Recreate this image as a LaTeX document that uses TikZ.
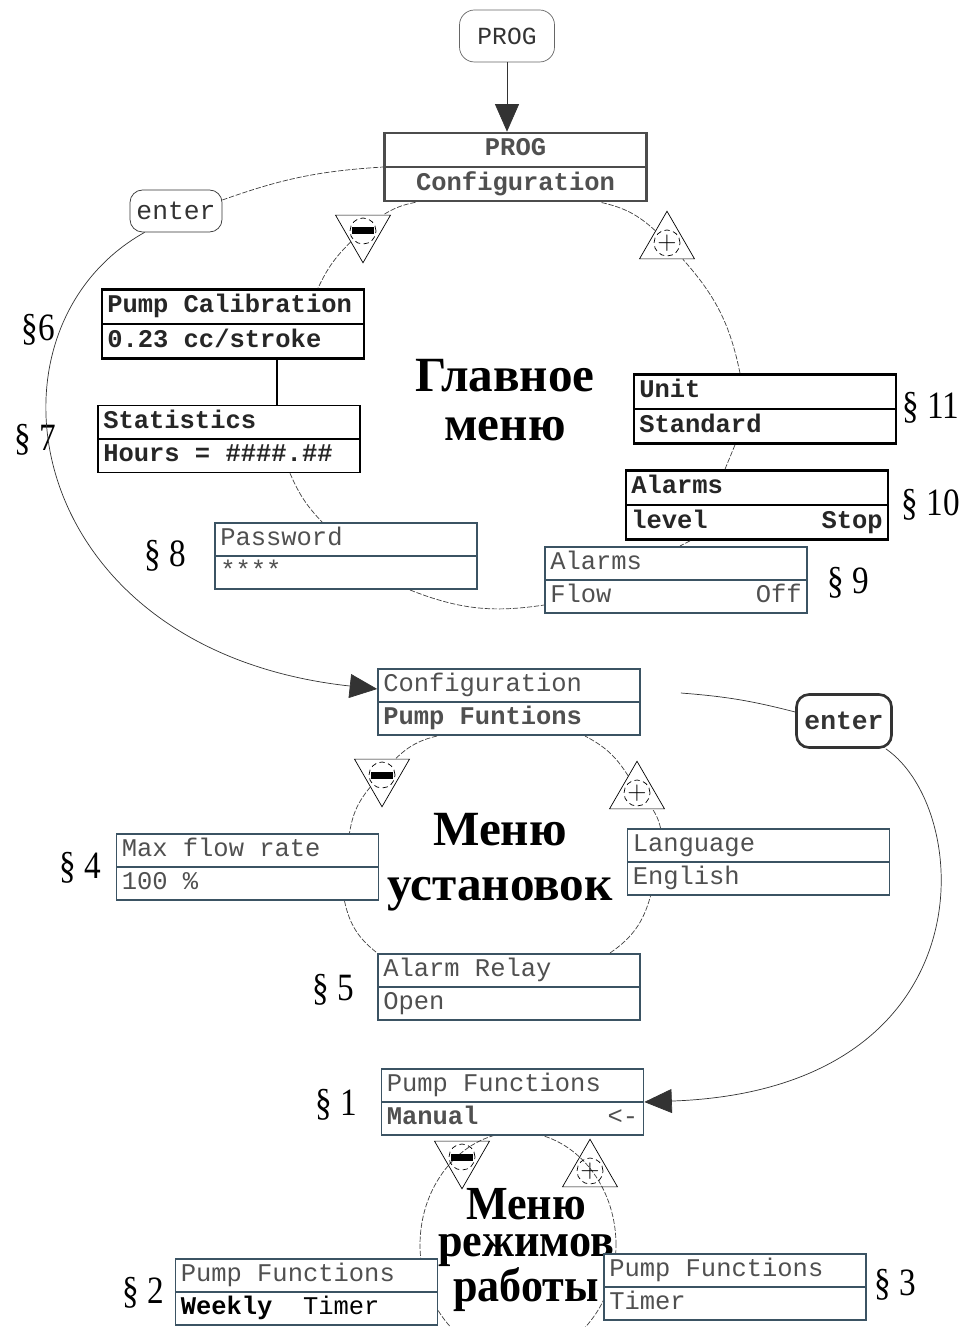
\documentclass[tikz,border=0pt]{standalone}
\usepackage{fontspec}
\setmainfont{Liberation Serif}
\newfontfamily\panelfont{Liberation Mono}
\newfontfamily\narrowserif{Liberation Serif}[FakeStretch=0.86]
\newfontfamily\modesfont{Liberation Serif}[FakeStretch=0.93]
\newcommand{\monosize}{\fontsize{14.5}{17}\selectfont\spaceskip=0.6em\relax\xspaceskip=0.6em\relax}
\usepackage{xcolor}
\definecolor{PanelSlate}{HTML}{3B5363}
\definecolor{PanelText}{HTML}{505050}
\usepackage{tikz}
\usetikzlibrary{positioning}
\usetikzlibrary{calc}
\usetikzlibrary{shapes.multipart}
\usetikzlibrary{shapes.geometric}
\usetikzlibrary{arrows, arrows.meta}

\begin{document}
\begin{tikzpicture}[
    auto,
    panel/.style={rectangle split,
    rectangle split parts=2,
    draw=PanelSlate,
    line width=0.9pt,
    fill=white,
    font=\panelfont\monosize,
    text=PanelText,
    text width=5.03cm,
    align=flush left,
    inner xsep=3pt,
    inner ysep=0.5pt},
    panelbold/.style={panel,
    draw=black,
    line width=1.6pt,
    text=black!85,
    font=\panelfont\bfseries\monosize},
    keybox/.style={rectangle,
    draw=black!80,
    rounded corners=2.5mm,
    font=\panelfont\bfseries\fontsize{15}{17}\selectfont,
    text=black!80,
    minimum width=1.84cm,
    minimum height=0.84cm},
    minustri/.style={regular polygon,
    regular polygon sides=3,
    shape border rotate=180,
    draw,
    thin,
    minimum size=1.27cm,
    inner sep=0pt},
    plustri/.style={regular polygon,
    regular polygon sides=3,
    draw,
    thin,
    minimum size=1.27cm,
    inner sep=0pt},
    signring/.style={circle,
    draw,
    densely dashed,
    minimum size=0.52cm,
    inner sep=0pt},
    menutitle/.style={font=\bfseries\fontsize{28}{28}\selectfont,
    align=center},
    para/.style={font=\narrowserif\fontsize{22}{24}\selectfont},
    ring/.style={thin, black!75, dash pattern=on 3pt off 1pt},
    link/.style={thin, black!80},
    flowarrow/.style={-{Triangle[length=0.55cm, width=0.48cm]}}
    ]
    \useasboundingbox (0,0) rectangle (19.26,-26.54);
    \draw[ring] (10.36,-24.90) ellipse (1.96cm and 2.26cm);

    \node[keybox, draw=black!60, rounded corners=3mm, font=\panelfont\fontsize{14}{16}\selectfont, minimum width=1.9cm, minimum height=1.04cm] (prog) [xshift=10.14cm, yshift=-0.72cm] {PROG};
    \node[panel, align=flush center, draw=black!70, line width=1.4pt, font=\panelfont\bfseries\monosize] (cfg1) [xshift=10.31cm, yshift=-3.34cm] {\strut PROG\nodepart{two}\strut Configuration};
    \node[keybox, font=\panelfont\fontsize{15}{17}\selectfont] (enter1) [xshift=3.52cm, yshift=-4.22cm] {enter};
    \node[minustri] (m1) [xshift=7.26cm, yshift=-4.62cm] {};
    \node[signring] (m1s) at (m1.center) {\rule[-0.07cm]{0.44cm}{0.14cm}};
    \node[plustri] (p1) [xshift=13.34cm, yshift=-4.86cm] {};
    \node[signring] (p1s) at (p1.center) {\Large$+$};
    \node[panelbold] (calib) [xshift=4.66cm, yshift=-6.48cm] {\strut Pump Calibration\nodepart{two}\strut 0.23 cc/stroke};
    \node[panelbold, line width=1pt] (stats) [xshift=4.58cm, yshift=-8.78cm] {\strut Statistics\nodepart{two}\strut Hours = \#\#\#\#.\#\#};
    \node[panel] (password) [xshift=6.92cm, yshift=-11.12cm] {\strut Password\nodepart{two}\strut ****};
    \node[panelbold] (unit) [xshift=15.30cm, yshift=-8.18cm] {\strut Unit\nodepart{two}\strut Standard};
    \node[panelbold] (level) [xshift=15.14cm, yshift=-10.10cm] {\strut Alarms\nodepart{two}\strut level\hfill Stop};
    \node[panel] (flow) [xshift=13.52cm, yshift=-11.60cm] {\strut Alarms\nodepart{two}\strut Flow\hfill Off};
    \node[menutitle] (main) [xshift=10.10cm, yshift=-8.00cm] {Главное\\меню};
    \node[para] (s6) [xshift=0.76cm, yshift=-6.60cm] {§6};
    \node[para] (s7) [xshift=0.70cm, yshift=-8.80cm] {§ 7};
    \node[para] (s8) [xshift=3.30cm, yshift=-11.12cm] {§ 8};
    \node[para] (s11) [xshift=18.62cm, yshift=-8.16cm] {§ 11};
    \node[para] (s10) [xshift=18.62cm, yshift=-10.10cm] {§ 10};
    \node[para] (s9) [xshift=16.96cm, yshift=-11.66cm] {§ 9};

    \node[panel] (cfg2) [xshift=10.18cm, yshift=-14.04cm] {\strut Configuration\nodepart{two}\strut\textbf{Pump Funtions}};
    \node[keybox, line width=1.5pt, minimum width=1.9cm, minimum height=1.06cm] (enter2) [xshift=16.88cm, yshift=-14.42cm] {enter};
    \node[minustri] (m2) [xshift=7.64cm, yshift=-15.50cm] {};
    \node[signring] (m2s) at (m2.center) {\rule[-0.07cm]{0.44cm}{0.14cm}};
    \node[plustri] (p2) [xshift=12.74cm, yshift=-15.86cm] {};
    \node[signring] (p2s) at (p2.center) {\Large$+$};
    \node[panel] (maxflow) [xshift=4.95cm, yshift=-17.34cm] {\strut Max flow rate\nodepart{two}\strut 100 \%};
    \node[panel] (language) [xshift=15.17cm, yshift=-17.24cm] {\strut Language\nodepart{two}\strut English};
    \node[panel] (relay) [xshift=10.18cm, yshift=-19.74cm] {\strut Alarm Relay\nodepart{two}\strut Open};
    \node[menutitle, font=\bfseries\fontsize{28}{31}\selectfont] (setup) [xshift=10.00cm, yshift=-17.24cm] {Меню\\установок};
    \node[para] (s4) [xshift=1.60cm, yshift=-17.36cm] {§ 4};
    \node[para] (s5) [xshift=6.66cm, yshift=-19.80cm] {§ 5};

    \node[panel] (pf1) [xshift=10.25cm, yshift=-22.04cm] {\strut Pump Functions\nodepart{two}\strut\textbf{Manual}\hfill <-};
    \node[minustri] (m3) [xshift=9.24cm, yshift=-23.14cm] {};
    \node[signring] (m3s) at (m3.center) {\rule[-0.07cm]{0.44cm}{0.14cm}};
    \node[plustri] (p3) [xshift=11.80cm, yshift=-23.42cm] {};
    \node[signring] (p3s) at (p3.center) {\Large$+$};
    \node[menutitle, font=\modesfont\bfseries\fontsize{27}{21}\selectfont] (modes) [xshift=10.52cm, yshift=-25.00cm] {Меню\\режимов\\работы};
    \node[panel] (weekly) [xshift=6.13cm, yshift=-25.84cm] {\strut Pump Functions\nodepart{two}\strut\textbf{\color{black}Weekly}~~Timer};
    \node[panel] (timer) [xshift=14.70cm, yshift=-25.74cm] {\strut Pump Functions\nodepart{two}\strut Timer};
    \node[para] (s1) [xshift=6.72cm, yshift=-22.10cm] {§ 1};
    \node[para] (s2) [xshift=2.86cm, yshift=-25.86cm] {§ 2};
    \node[para] (s3) [xshift=17.90cm, yshift=-25.70cm] {§ 3};

    \draw[link, flowarrow] (prog) -- (prog |- cfg1.north);
    \draw[ring] ([yshift=0.22cm]enter1.east) to[bend left=8] (cfg1.west);
    \draw[link, flowarrow] ([xshift=0.3cm]enter1.south west) .. controls (-0.6,-6.6) and (0.4,-13.0) .. ([yshift=0.26cm]cfg2.west);
    \draw[ring] ([xshift=-2cm]cfg1.south) to[bend right=10] (m1);
    \draw[ring] (m1) to[bend right=10] ([xshift=1.7cm]calib.north);
    \draw[semithick] ([xshift=0.88cm]calib.south) -- ([xshift=0.96cm]stats.north);
    \draw[ring] ([xshift=1.22cm]stats.south) to[bend right=10] ([xshift=-0.48cm]password.north);
    \draw[ring] ([xshift=1.28cm]password.south) to[bend right=15] ([yshift=-0.5cm]flow.west);
    \draw[ring] ([xshift=-1.34cm]level.south) -- ([xshift=0.08cm]flow.north);
    \draw[ring] ([xshift=-0.6cm]unit.south) -- ([xshift=-0.64cm]level.north);
    \draw[ring] ([xshift=-0.5cm]unit.north) to[bend right=15] (p1);
    \draw[ring] (p1) to[bend right=15] ([xshift=1.7cm]cfg1.south);

    \draw[ring] ([xshift=-1.44cm]cfg2.south) to[bend right=15] (m2);
    \draw[ring] (m2) to[bend right=15] ([xshift=2.04cm]maxflow.north);
    \draw[ring] ([xshift=1.94cm]maxflow.south) to[bend right=20] (relay.north west);
    \draw[ring] ([xshift=2.02cm]relay.north) to[bend right=20] ([xshift=-2.16cm]language.south);
    \draw[ring] ([xshift=-1.96cm]language.north) to[bend right=10] (p2);
    \draw[ring] (p2) to[bend right=15] ([xshift=1.52cm]cfg2.south);
    \draw[link] ([xshift=0.8cm, yshift=0.18cm]cfg2.east) to[bend left=5] ([yshift=0.18cm]enter2.west);
    \draw[link, flowarrow] ([xshift=-0.14cm]enter2.south east) .. controls (19.5,-16.2) and (19.8,-21.8) .. (pf1.east);
  \end{tikzpicture}
\end{document}
